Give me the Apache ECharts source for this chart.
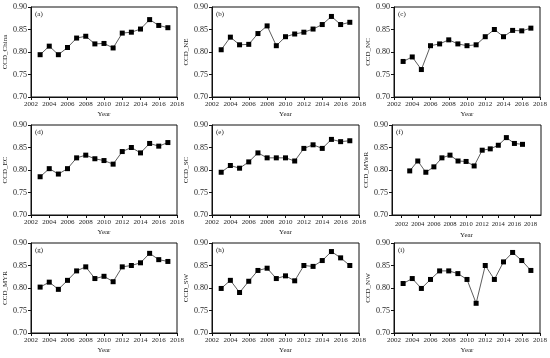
<!DOCTYPE html>
<html><head><meta charset="utf-8">
<script src="https://cdn.jsdelivr.net/npm/echarts@6/dist/echarts.min.js"></script>
<style>html,body{margin:0;padding:0;background:#fff}#c{width:550px;height:358px}</style>
</head><body><div id="c"></div>
<script>
var years = [2003,2004,2005,2006,2007,2008,2009,2010,2011,2012,2013,2014,2015,2016,2017];
var panelLabels = ['(a)','(b)','(c)','(d)','(e)','(f)','(g)','(h)','(i)'];
var yNames = ['CCD_China','CCD_NE','CCD_NC','CCD_EC','CCD_SC','CCD_MYeR','CCD_MYR','CCD_SW','CCD_NW'];
var xTicks = [2002,2004,2006,2008,2010,2012,2014,2016,2018];
var yTicks = [0.70,0.75,0.80,0.85,0.90];
var ccdChina = [0.794,0.813,0.794,0.810,0.831,0.835,0.818,0.819,0.809,0.842,0.844,0.851,0.872,0.859,0.854];
var ccdNE    = [0.805,0.833,0.816,0.817,0.841,0.858,0.814,0.834,0.840,0.844,0.851,0.861,0.879,0.861,0.866];
var ccdNC    = [0.779,0.789,0.761,0.814,0.818,0.827,0.818,0.814,0.816,0.834,0.850,0.834,0.848,0.847,0.853];
var ccdEC    = [0.785,0.803,0.791,0.803,0.827,0.833,0.825,0.821,0.813,0.841,0.850,0.838,0.859,0.853,0.861];
var ccdSC    = [0.795,0.810,0.804,0.818,0.838,0.827,0.827,0.827,0.820,0.848,0.856,0.848,0.868,0.863,0.865];
var ccdMYeR  = [0.798,0.820,0.795,0.807,0.827,0.833,0.820,0.819,0.809,0.844,0.847,0.855,0.872,0.859,0.857];
var ccdMYR   = [0.802,0.813,0.797,0.817,0.838,0.847,0.821,0.826,0.814,0.847,0.850,0.856,0.877,0.863,0.859];
var ccdSW    = [0.799,0.817,0.790,0.815,0.839,0.844,0.821,0.827,0.816,0.850,0.848,0.861,0.881,0.867,0.850];
var ccdNW    = [0.810,0.821,0.799,0.819,0.838,0.838,0.832,0.819,0.766,0.850,0.819,0.858,0.879,0.861,0.839];
var allSeries = [ccdChina,ccdNE,ccdNC,ccdEC,ccdSC,ccdMYeR,ccdMYR,ccdSW,ccdNW];

var lefts = [31,212,394];
var widths = [146,147,147];
var tops = [7,125,243];
var H = 90;
var FONT = '"Liberation Serif", "Times New Roman", serif';
var TC = '#222';

var grids=[], xAxes=[], yAxes=[], series=[], graphics=[];
for (var i=0;i<9;i++){
  var r = Math.floor(i/3), c = i%3;
  var L = lefts[c], W = widths[c];
  var isF = (i===5);
  if (isF){ L = 392; W = 149; }
  grids.push({left:L, top:tops[r], width:W, height:H, show:true, borderColor:'#111', borderWidth:1, backgroundColor:'transparent'});
  var xa = {
    gridIndex:i, type:'value', name:'Year', nameLocation:'middle', nameGap:14,
    nameTextStyle:{fontFamily:FONT, fontSize:7, color:TC},
    axisLine:{onZero:false, lineStyle:{color:'#111', width:1}},
    axisTick:{show:true, inside:false, length:3, lineStyle:{color:'#111'}},
    axisLabel:{fontFamily:FONT, fontSize:7, color:TC, margin:4, hideOverlap:false,
      showMinLabel:true, showMaxLabel:true,
      formatter:function(v){return String(Math.round(v));}},
    splitLine:{show:false}
  };
  if (isF){
    xa.min = 2000.8; xa.max = 2019.3;
    xa.axisTick.customValues = xTicks;
    xa.axisLabel.customValues = xTicks;
    xa.axisLabel.margin = 6;
    xa.axisLabel.fontSize = 6.6;
    xa.axisLabel.interval = 0;
    xa.nameGap = 17;
  } else {
    xa.min = xTicks[0]; xa.max = xTicks[xTicks.length-1]; xa.interval = 2;
  }
  xAxes.push(xa);
  yAxes.push({
    gridIndex:i, type:'value', min:yTicks[0], max:yTicks[yTicks.length-1], interval:0.05,
    name:yNames[i], nameLocation:'middle', nameGap:21, nameRotate:90,
    nameTextStyle:{fontFamily:FONT, fontSize:7, color:TC},
    axisLine:{show:true, lineStyle:{color:'#111', width:1}},
    axisTick:{show:true, inside:false, length:3, lineStyle:{color:'#111'}},
    axisLabel:{fontFamily:FONT, fontSize:8, color:TC, margin:4, formatter:function(v){return v.toFixed(2);}},
    splitLine:{show:false}
  });
  var data = years.map(function(y,k){return [y, allSeries[i][k]];});
  series.push({
    type:'line', xAxisIndex:i, yAxisIndex:i, data:data,
    symbol:'rect', symbolSize:5, showSymbol:true,
    lineStyle:{color:'#333', width:0.8},
    itemStyle:{color:'#000', borderWidth:0},
    emphasis:{disabled:true}, animation:false, z:3
  });
  graphics.push({type:'text', left:L+4, top:tops[r]+4,
    style:{text:panelLabels[i], font:'7px '+FONT, fill:TC}});
}

var chart = echarts.init(document.getElementById('c'), null, {renderer:'canvas'});
chart.setOption({
  animation:false,
  backgroundColor:'#fff',
  grid:grids, xAxis:xAxes, yAxis:yAxes, series:series, graphic:graphics
});
</script></body></html>
